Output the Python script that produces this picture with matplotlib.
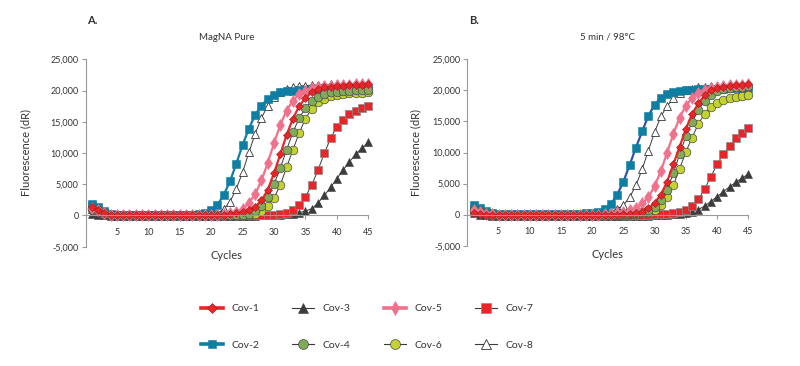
import matplotlib
matplotlib.use("Agg")
import matplotlib.pyplot as plt
from matplotlib.lines import Line2D

plt.rcParams['font.family'] = ['Lato', 'DejaVu Sans']

cycles = list(range(1, 46))
series_names = ["Cov-1", "Cov-2", "Cov-3", "Cov-4", "Cov-5", "Cov-6", "Cov-7", "Cov-8"]
panel_titles = ["MagNA Pure", "5 min / 98°C"]
panel_letters = ["A.", "B."]
x_ticks = [5, 10, 15, 20, 25, 30, 35, 40, 45]
y_ticks = [-5000, 0, 5000, 10000, 15000, 20000, 25000]

# ---------------- Panel A (MagNA Pure) ----------------
a_cov1 = [1300, 900, 450, 150, 50, 0, 0, 0, 0, 0, 0, 0, 0, 0, 0, 0, 0, 0, 0,
          50, 100, 150, 250, 350, 500, 850, 1400, 2400, 4100, 6800, 9800, 12900, 15500,
          17500, 18800, 19700, 20200, 20500, 20600, 20700, 20800, 20850, 20900, 20950, 21000]
a_cov2 = [1900, 1300, 700, 300, 150, 100, 100, 100, 100, 100, 100, 100, 100, 100, 100, 100, 100,
          200, 350, 800, 1700, 3300, 5500, 8300, 11300, 13900, 16100, 17600, 18700, 19300,
          19700, 19900, 20000, 20100, 20150, 20200, 20200, 20250, 20250, 20300, 20300, 20300,
          20350, 20350, 20400]
a_cov3 = [300, 100, 0, -100, -150, -150, -150, -150, -150, -150, -150, -150, -150, -150, -150,
          -150, -150, -150, -150, -150, -150, -150, -150, -150, -150, -100, -50, 0, 50,
          100, 150, 200, 300, 450, 700, 1100, 2000, 3200, 4500, 5900, 7300, 8600, 9800, 10800, 11700]
a_cov4 = [1200, 800, 400, 150, 50, 0, 0, 0, 0, 0, 0, 0, 0, 0, 0, 0, 0, 0, 0, 0, 0, 0,
          50, 100, 150, 300, 700, 1500, 2900, 5000, 7600, 10500, 13300, 15600, 17200, 18300,
          19000, 19400, 19700, 19800, 19900, 20000, 20050, 20100, 20150]
a_cov5 = [1200, 800, 400, 150, 50, 0, 0, 0, 0, 0, 0, 0, 0, 0, 0, 0, 0, 0, 0,
          50, 100, 200, 350, 600, 1100, 2000, 3400, 5600, 8400, 11600, 14500, 16800, 18400,
          19400, 20000, 20400, 20600, 20700, 20800, 20850, 20900, 20950, 21000, 21000, 21050]
a_cov6 = [1100, 700, 350, 100, 0, 0, 0, 0, 0, 0, 0, 0, 0, 0, 0, 0, 0, 0, 0, 0, 0, 0, 0,
          50, 100, 150, 300, 700, 1500, 2800, 4900, 7700, 10500, 13200, 15500, 17100, 18100,
          18700, 19100, 19300, 19450, 19550, 19600, 19650, 19700]
a_cov7 = [1500, 900, 450, 150, 50, 0, 0, 0, 0, 0, 0, 0, 0, 0, 0, 0, 0, 0, 0, 0, 0, 0, 0, 0, 0, 0, 0,
          50, 100, 150, 250, 450, 850, 1700, 3000, 4850, 7300, 9950, 12350, 14200, 15300,
          16200, 16800, 17200, 17550]
a_cov8 = [1000, 600, 300, 100, 0, 0, 0, 0, 0, 0, 0, 0, 0, 0, 0, 0, 0,
          50, 100, 200, 400, 1000, 2200, 4300, 6900, 10100, 13100, 15600, 17600, 18900, 19700,
          20200, 20500, 20700, 20800, 20850, 20900, 20950, 21000, 21000, 21050, 21050, 21100,
          21100, 21150]

# ---------------- Panel B (5 min / 98 °C) ----------------
b_cov1 = [300, 100, 0, 0, 0, 0, 0, 0, 0, 0, 0, 0, 0, 0, 0, 0, 0, 0, 0, 0, 0, 0, 0, 0,
          50, 100, 200, 400, 1000, 1900, 3200, 5300, 8100, 10900, 13800, 16200, 17900, 19200,
          20000, 20400, 20600, 20700, 20800, 20900, 21000]
b_cov2 = [1600, 1000, 550, 300, 150, 100, 100, 100, 100, 100, 100, 100, 100, 100, 100, 100, 100, 100,
          200, 300, 500, 900, 1700, 3200, 5300, 8000, 10800, 13400, 15900, 17700, 18800, 19400,
          19700, 19900, 20000, 20100, 20150, 20200, 20250, 20300, 20300, 20350, 20350, 20400, 20400]
b_cov3 = [200, 0, -100, -150, -150, -150, -150, -150, -150, -150, -150, -150, -150, -150, -150,
          -150, -150, -150, -150, -150, -150, -150, -150, -150, -150, -150, -150, -150, -150, -100,
          -50, 0, 50, 150, 250, 450, 800, 1400, 2100, 2900, 3700, 4500, 5200, 5900, 6500]
b_cov4 = [800, 400, 150, 50, 0, 0, 0, 0, 0, 0, 0, 0, 0, 0, 0, 0, 0, 0, 0, 0, 0, 0, 0, 0,
          50, 100, 200, 350, 700, 1300, 2300, 4000, 6700, 9700, 12600, 14900, 16800, 18300,
          19300, 19900, 20200, 20400, 20500, 20600, 20700]
b_cov5 = [800, 400, 150, 50, 0, 0, 0, 0, 0, 0, 0, 0, 0, 0, 0, 0, 0, 0, 0, 0, 0,
          50, 100, 200, 400, 700, 1100, 1800, 2800, 4600, 7000, 10000, 13000, 15600, 17500,
          18800, 19600, 20100, 20400, 20600, 20700, 20800, 20850, 20900, 20950]
b_cov6 = [700, 350, 100, 0, 0, 0, 0, 0, 0, 0, 0, 0, 0, 0, 0, 0, 0, 0, 0, 0, 0, 0, 0, 0, 0,
          50, 100, 200, 400, 800, 1500, 2800, 4700, 7400, 10100, 12400, 14600, 16200, 17300,
          17900, 18400, 18800, 19000, 19150, 19250]
b_cov7 = [1000, 500, 200, 50, 0, 0, 0, 0, 0, 0, 0, 0, 0, 0, 0, 0, 0, 0, 0, 0, 0, 0, 0, 0, 0, 0, 0, 0, 0,
          50, 100, 150, 250, 400, 700, 1400, 2450, 4100, 6100, 8100, 9750, 11100, 12300, 13100, 13900]
b_cov8 = [700, 350, 100, 0, 0, 0, 0, 0, 0, 0, 0, 0, 0, 0, 0, 0, 0, 0, 0,
          50, 100, 250, 500, 950, 1500, 2800, 4700, 7300, 10300, 13300, 15800, 17500, 18700,
          19500, 20000, 20300, 20500, 20600, 20700, 20750, 20800, 20850, 20900, 20900, 20950]

panel_a = {"Cov-1": a_cov1, "Cov-2": a_cov2, "Cov-3": a_cov3, "Cov-4": a_cov4,
           "Cov-5": a_cov5, "Cov-6": a_cov6, "Cov-7": a_cov7, "Cov-8": a_cov8}
panel_b = {"Cov-1": b_cov1, "Cov-2": b_cov2, "Cov-3": b_cov3, "Cov-4": b_cov4,
           "Cov-5": b_cov5, "Cov-6": b_cov6, "Cov-7": b_cov7, "Cov-8": b_cov8}
for d in (panel_a, panel_b):
    for k, v in d.items():
        assert len(v) == 45, (k, len(v))

DARK = "#3a3a3a"
styles = {
    "Cov-1": dict(color="#e8262a", lw=1.6, marker="D", ms=4.4, mfc="#e8262a", mec="#a01818", mew=0.4),
    "Cov-2": dict(color="#0e7ea2", lw=1.6, marker="s", ms=5.6, mfc="#0e7ea2", mec="#0e7ea2", mew=0.4),
    "Cov-3": dict(color=DARK, lw=0.7, marker="^", ms=6.0, mfc="#3c3c3c", mec="#3c3c3c", mew=0.4),
    "Cov-4": dict(color=DARK, lw=0.7, marker="o", ms=6.2, mfc="#7eab5a", mec="#4a4a4a", mew=0.5),
    "Cov-5": dict(color="#f0718b", lw=1.6, marker="d", ms=6.0, mfc="#f0718b", mec="#f0718b", mew=0.4),
    "Cov-6": dict(color=DARK, lw=0.7, marker="o", ms=6.2, mfc="#c3d22e", mec="#4a4a4a", mew=0.5),
    "Cov-7": dict(color=DARK, lw=0.7, marker="s", ms=6.0, mfc="#e8262a", mec="#8a8a8a", mew=0.5),
    "Cov-8": dict(color=DARK, lw=0.7, marker="^", ms=6.2, mfc="white", mec="#333333", mew=0.6),
}
draw_order = ["Cov-3", "Cov-7", "Cov-8", "Cov-2", "Cov-6", "Cov-4", "Cov-5", "Cov-1"]

W, H = 800, 366
fig = plt.figure(figsize=(W / 100, H / 100), dpi=100)

# axes rectangles in pixels: (left, right, top(25000), bottom(-5000))
rects = [(85.5, 368.3, 59.3, 246.7), (467.3, 748.3, 59.3, 245.7)]
SPINE = "#9a9a9a"
TXT = "#333333"

for i, (data, rect) in enumerate(zip([panel_a, panel_b], rects)):
    l, r, t, b = rect
    ax = fig.add_axes([l / W, 1 - b / H, (r - l) / W, (b - t) / H])
    for name in draw_order:
        st = dict(styles[name])
        if i == 1 and name == "Cov-2":
            st["color"] = "#2f55a8"
        ax.plot(cycles, data[name], clip_on=False, **st)
    ax.set_xlim(0, 45)
    ax.set_ylim(-5000, 25000)
    ax.spines['top'].set_visible(False)
    ax.spines['right'].set_visible(False)
    ax.spines['bottom'].set_position(('data', 0))
    for s in ('left', 'bottom'):
        ax.spines[s].set_color(SPINE)
        ax.spines[s].set_linewidth(0.8)
    ax.set_xticks(x_ticks)
    ax.set_yticks(y_ticks)
    ax.set_yticklabels([f"{v:,}" for v in y_ticks])
    ax.tick_params(axis='both', colors=SPINE, labelcolor=TXT, labelsize=6.5,
                   length=3, width=0.8, direction='out')
    ax.tick_params(axis='x', pad=6)
    ax.tick_params(axis='y', pad=2)
    ax.set_ylabel("Fluorescence (dR)", fontsize=8, color=TXT, labelpad=14 if i == 0 else 8)
    ax.text(0.5, -0.02, "Cycles", transform=ax.transAxes, ha='center', va='top',
            fontsize=8, color=TXT)
    ax.set_title(panel_titles[i], fontsize=7, color=TXT, pad=14)
    fig.text(l / W + 0.002, 1 - 20 / H, panel_letters[i], fontsize=8, fontweight='bold',
             color=TXT, ha='left', va='center')

handles = []
for name in series_names:
    st = styles[name]
    lw = 2.6 if st["lw"] > 1 else 0.8
    handles.append(Line2D([0], [0], color=st["color"], lw=lw, marker=st["marker"],
                          ms=st["ms"] * 1.15, mfc=st["mfc"], mec=st["mec"], mew=st["mew"]))
fig.legend(handles, series_names, ncol=4, loc='upper left',
           bbox_to_anchor=(201 / W, 1 - 304 / H), frameon=False, fontsize=7.5,
           handlelength=2.1, handletextpad=0.8, columnspacing=3.2, labelspacing=2.6,
           borderpad=0, borderaxespad=0, labelcolor=TXT)

fig.savefig("out.png", dpi=100, facecolor="white")
